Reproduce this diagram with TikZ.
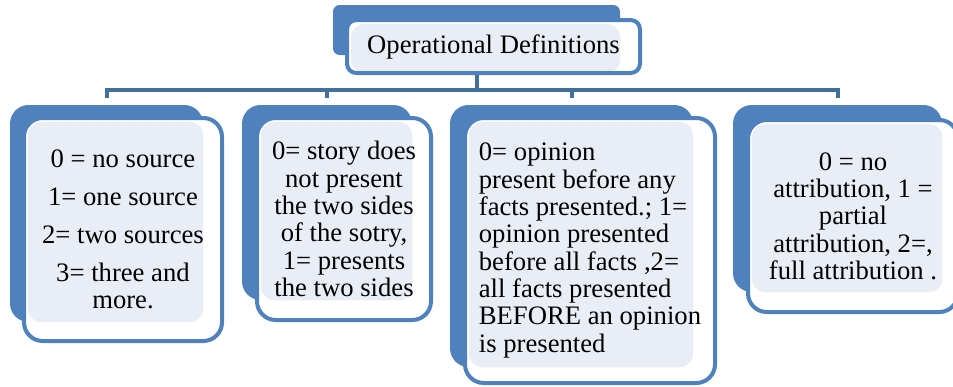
\documentclass[tikz,border=0pt]{standalone}
\usepackage{fontspec}
\setmainfont{Liberation Serif}

\definecolor{accent}{HTML}{4F81BD}
\definecolor{linkblue}{HTML}{41709F}
\definecolor{soft}{HTML}{E9EEF6}

\begin{document}
\begin{tikzpicture}[x=0.75pt, y=-0.75pt]
        \tikzstyle{def_back}  = [shape = rectangle, fill = accent, rounded corners = 14pt, inner sep = 0pt]
        \tikzstyle{def_box}   = [shape = rectangle, draw = accent, line width = 3pt, fill = white,
                                 rounded corners = 14pt, inner sep = 0pt, align = center,
                                 font = \fontsize{20}{20.5}\selectfont]
        \tikzstyle{link}      = [draw = linkblue, line width = 3pt]
        \tikzset{tint/.style = {path picture = {
          \fill[soft, rounded corners = 10pt]
            ([shift = {(3pt,-3pt)}]path picture bounding box.north west) rectangle #1;}}}

        \useasboundingbox (0,0) rectangle (953,386);

        % heading
        \node[def_back, rounded corners = 5pt, minimum width = 215.25pt, minimum height = 37.5pt]
          at (476.5, 30.0) (defs_back) {};
        \node[def_box, rounded corners = 7pt, minimum width = 219.75pt, minimum height = 39.75pt,
              tint = {(defs_back.east |- path picture bounding box.south)}]
          at (493.5, 46.5) (defs) {Operational Definitions};

        % the four codes
        \node[def_back, minimum width = 144.75pt, minimum height = 162.75pt]
          at (106.5, 213.5) (sources_back) {};
        \node[def_box, minimum width = 148.5pt, minimum height = 167.25pt,
              tint = {(sources_back.south east)}]
          at (123.0, 229.5) (sources)
          {0 = no source\\[8pt] 1= one source\\[8pt] 2= two sources\\[8pt] 3= three and\\ more.};

        \node[def_back, minimum width = 127.5pt, minimum height = 146.25pt]
          at (327.0, 202.5) (sides_back) {};
        \node[def_box, minimum width = 130.5pt, minimum height = 151.5pt,
              tint = {(sides_back.south east)}]
          at (344.0, 219.0) (sides)
          {0= story does\\ not present\\ the two sides\\ of the sotry,\\ 1= presents\\ the two sides};

        \node[def_back, minimum width = 182.25pt, minimum height = 196.5pt]
          at (571.5, 236.0) (order_back) {};
        \node[def_box, align = left, minimum width = 187.5pt, minimum height = 198.75pt,
              tint = {(order_back.south east)}]
          at (590.0, 250.5) (order)
          {0= opinion\\ present before any\\ facts presented.; 1=\\ opinion presented\\
           before all facts ,2=\\ all facts presented\\ BEFORE an opinion\\ is presented};

        \node[def_back, minimum width = 156.75pt, minimum height = 140.25pt]
          at (837.5, 198.5) (attrib_back) {};
        \node[def_box, minimum width = 157.5pt, minimum height = 144.0pt,
              tint = {(attrib_back.south east)}]
          at (853.0, 216.0) (attrib)
          {0 = no\\ attribution, 1 =\\ partial\\ attribution, 2=,\\ full attribution .};

        % hierarchy lines
        \draw[link] (defs_back.south |- defs.south) -- ++(0,15) coordinate (bar);
        \foreach \n in {sources_back, sides_back, order_back, attrib_back}
          \draw[link] (bar) -| ([yshift = 5pt]\n.north);
\end{tikzpicture}
\end{document}
